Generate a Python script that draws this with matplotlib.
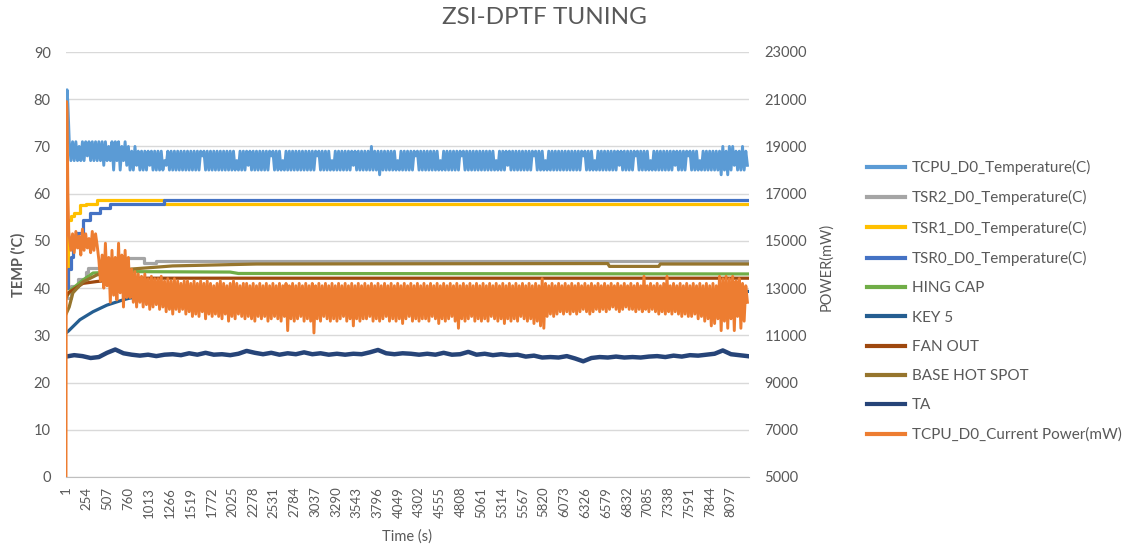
import numpy as np
import matplotlib
matplotlib.use("Agg")
import matplotlib.pyplot as plt

plt.rcParams['font.family'] = ['Lato', 'DejaVu Sans']

# ---------------- data ----------------
title = "ZSI-DPTF TUNING"
x_ticks = [1 + 253 * k for k in range(33)]  # 1, 254, ..., 8097

# dense (noisy) series sampled every 20 s, plus start-up spike samples
t_start = [1, 6, 14, 24, 34]
t_dense = np.arange(41, 8302, 20)

tcpu_start = [71, 80, 82, 79, 74]
tcpu_temp = [
    71, 67, 71, 67, 71, 67, 70, 67, 71, 67, 71, 68, 71, 67, 71, 67, 71, 67,
    71, 67, 71, 66, 71, 67, 70, 67, 71, 65, 71, 67, 71, 65, 70, 67, 71, 66,
    70, 65, 69, 65, 70, 66, 69, 65, 69, 65, 69, 65, 69, 66, 69, 65, 69, 65,
    69, 65, 69, 65, 67, 66, 69, 65, 69, 65, 69, 65, 69, 65, 69, 65, 69, 65,
    69, 65, 69, 65, 69, 65, 69, 65, 69, 68, 69, 65, 69, 65, 69, 65, 69, 65,
    69, 65, 69, 65, 69, 65, 69, 65, 69, 65, 69, 65, 67, 65, 69, 65, 69, 65,
    69, 66, 69, 65, 69, 65, 69, 65, 69, 65, 69, 65, 69, 65, 69, 68, 69, 65,
    69, 65, 69, 65, 67, 65, 69, 65, 69, 65, 69, 65, 69, 65, 69, 65, 69, 65,
    69, 65, 69, 65, 69, 65, 69, 68, 69, 65, 69, 65, 69, 65, 69, 65, 67, 65,
    69, 65, 69, 65, 69, 65, 69, 65, 69, 65, 69, 66, 69, 65, 69, 65, 69, 65,
    69, 65, 69, 65, 70, 65, 69, 65, 69, 64, 69, 65, 69, 65, 69, 65, 69, 65,
    69, 65, 67, 65, 69, 65, 69, 65, 69, 65, 69, 65, 69, 68, 69, 65, 69, 65,
    69, 65, 69, 65, 69, 65, 69, 65, 69, 65, 67, 65, 69, 65, 69, 65, 69, 65,
    69, 65, 69, 65, 69, 68, 69, 65, 69, 65, 69, 65, 69, 65, 69, 65, 69, 65,
    69, 65, 69, 65, 69, 65, 69, 65, 67, 65, 69, 65, 69, 65, 69, 66, 69, 65,
    69, 65, 69, 65, 69, 65, 69, 65, 69, 65, 69, 65, 69, 68, 69, 65, 69, 65,
    69, 65, 67, 65, 69, 65, 69, 65, 69, 65, 69, 65, 69, 65, 69, 65, 69, 65,
    69, 65, 69, 65, 69, 65, 69, 68, 69, 65, 69, 65, 69, 65, 67, 65, 69, 65,
    69, 65, 69, 65, 69, 65, 69, 65, 69, 65, 69, 66, 69, 65, 69, 65, 69, 65,
    69, 65, 69, 68, 69, 65, 69, 65, 69, 65, 69, 65, 67, 65, 69, 65, 69, 65,
    69, 65, 69, 65, 69, 65, 69, 65, 69, 66, 69, 65, 69, 65, 69, 65, 69, 68,
    69, 65, 69, 65, 69, 65, 67, 65, 69, 65, 69, 65, 69, 65, 69, 65, 69, 65,
    69, 64, 70, 65, 69, 64, 70, 65, 70, 66, 69, 65, 69, 65, 70, 65, 69, 66,
]

# power, in units of 100 mW
power_start = [50, 209, 205, 170, 154]
power_hmw = [
    152, 146, 153, 145, 154, 147, 152, 144, 155, 146, 153, 147, 151, 145, 154, 146, 153, 148,
    142, 133, 144, 130, 149, 131, 143, 124, 146, 127, 143, 125, 149, 128, 144, 122, 146, 126,
    143, 126, 138, 124, 137, 122, 136, 124, 135, 122, 136, 123, 134, 121, 135, 122, 134, 123,
    134, 121, 135, 122, 133, 120, 134, 121, 133, 119, 134, 121, 133, 120, 132, 121, 133, 119,
    133, 120, 132, 118, 133, 119, 132, 118, 133, 120, 132, 117, 133, 119, 132, 118, 131, 119,
    132, 118, 133, 117, 132, 119, 131, 116, 132, 118, 133, 117, 132, 119, 131, 118, 132, 117,
    132, 118, 131, 117, 132, 116, 131, 118, 132, 117, 131, 118, 132, 116, 131, 117, 132, 118,
    131, 117, 132, 116, 131, 118, 132, 112, 131, 117, 132, 116, 131, 117, 132, 118, 131, 116,
    132, 117, 131, 116, 132, 111, 131, 117, 132, 116, 131, 118, 132, 117, 131, 116, 132, 117,
    131, 116, 132, 117, 131, 118, 132, 116, 131, 117, 132, 114, 131, 117, 132, 116, 131, 117,
    132, 117, 131, 118, 132, 116, 131, 117, 132, 116, 131, 117, 132, 118, 131, 116, 132, 117,
    131, 116, 132, 117, 131, 115, 132, 117, 131, 118, 132, 116, 131, 117, 132, 116, 131, 117,
    132, 117, 131, 116, 132, 118, 131, 117, 132, 115, 131, 117, 132, 116, 131, 117, 132, 118,
    131, 116, 132, 113, 131, 117, 132, 116, 131, 117, 132, 118, 131, 116, 132, 117, 131, 116,
    132, 117, 131, 116, 132, 118, 131, 117, 132, 116, 131, 117, 132, 115, 131, 117, 132, 116,
    131, 117, 132, 116, 131, 118, 132, 117, 131, 116, 132, 117, 131, 115, 132, 116, 131, 114,
    134, 113, 132, 118, 131, 119, 132, 118, 131, 119, 132, 120, 131, 119, 132, 120, 131, 119,
    132, 120, 131, 119, 132, 120, 131, 121, 132, 120, 131, 119, 132, 120, 131, 121, 132, 120,
    131, 121, 132, 120, 131, 121, 132, 122, 131, 121, 132, 120, 131, 121, 132, 122, 131, 121,
    132, 121, 131, 120, 132, 121, 131, 120, 135, 121, 131, 120, 132, 121, 131, 120, 132, 119,
    131, 120, 132, 119, 135, 120, 131, 119, 132, 120, 131, 119, 132, 118, 131, 119, 132, 118,
    131, 118, 132, 119, 131, 117, 132, 118, 131, 116, 132, 117, 131, 114, 132, 115, 131, 117,
    135, 112, 134, 116, 135, 113, 134, 117, 135, 112, 133, 118, 134, 113, 132, 116, 131, 124,
]

t_ta = np.arange(1, 8302, 100)
ta_temp = [
    25.5, 25.8, 25.6, 25.2, 25.4, 26.3, 27.0, 26.2, 25.9, 25.7,
    25.9, 25.6, 25.9, 26.0, 25.8, 26.2, 25.9, 26.3, 25.9, 26.0,
    25.8, 26.1, 26.7, 26.3, 26.0, 26.3, 25.9, 26.2, 26.0, 26.4,
    26.0, 26.2, 25.9, 26.1, 25.9, 26.1, 26.0, 26.4, 26.9, 26.2,
    26.0, 26.2, 26.1, 25.9, 26.1, 25.9, 26.3, 25.9, 26.0, 26.5,
    25.9, 26.1, 25.8, 26.0, 25.8, 25.9, 25.5, 25.7, 25.3, 25.4,
    25.3, 25.6, 25.1, 24.5, 25.2, 25.4, 25.3, 25.5, 25.3, 25.4,
    25.3, 25.5, 25.6, 25.4, 25.7, 25.5, 25.8, 25.7, 25.9, 26.1,
    26.8, 26.0, 25.8, 25.6,
]

# smoother sensor series (key points)
t_tsr1 = [1, 30, 60, 100, 170, 250, 380, 1180, 1200, 8320]
tsr1_temp = [40, 54.5, 55.2, 56.0, 57.6, 57.8, 58.7, 58.7, 57.8, 57.8]

t_tsr0 = [1, 20, 60, 90, 140, 210, 290, 410, 535, 1180, 1200, 8320]
tsr0_temp = [40, 44.0, 46.6, 49.5, 51.7, 54.4, 56.0, 57.0, 57.8, 57.8, 58.7, 58.7]

t_tsr2 = [1, 60, 150, 250, 270, 330, 600, 720, 900, 950, 1100, 8320]
tsr2_temp = [38, 40.5, 42.0, 43.5, 44.3, 44.3, 44.5, 46.4, 46.4, 45.3, 45.7, 45.7]

t_base = [1, 40, 85, 207, 377, 694, 1300, 2320, 6600, 6620, 7220, 7240, 8320]
base_temp = [34.5, 36.0, 39.0, 41.3, 42.8, 43.9, 44.7, 45.1, 45.2, 44.6, 44.6, 45.1, 45.1]

t_hing = [1, 60, 207, 330, 700, 2000, 2100, 8320]
hing_temp = [38.0, 39.6, 41.7, 43.2, 43.5, 43.4, 43.1, 43.0]

t_fan = [1, 30, 207, 377, 800, 8320]
fan_temp = [38.0, 39.0, 41.0, 41.4, 42.1, 42.1]

t_key5 = [1, 30, 170, 330, 500, 694, 780, 1500, 3000, 8320]
key5_temp = [30.5, 30.9, 33.3, 35.0, 36.4, 37.5, 37.9, 38.8, 39.2, 39.3]

# ---------------- figure ----------------
fig = plt.figure(figsize=(11.28, 5.52), dpi=100)
ax = fig.add_axes([66 / 1128, 1 - 477 / 552, (749 - 66) / 1128, (477 - 52) / 552])
ax2 = ax.twinx()

c_tcpu = '#5B9BD5'
c_tsr2 = '#A5A5A5'
c_tsr1 = '#FFC000'
c_tsr0 = '#4472C4'
c_hing = '#70AD47'
c_key5 = '#255E91'
c_fan = '#9E480E'
c_base = '#96752D'
c_ta = '#264478'
c_pow = '#ED7D31'

lw_s = 2.3
t_all = np.concatenate([t_start, t_dense])
h_tcpu, = ax.plot(t_all, tcpu_start + tcpu_temp,
                  color=c_tcpu, lw=2.1, label='TCPU_D0_Temperature(C)')
h_tsr2, = ax.plot(t_tsr2, tsr2_temp, color=c_tsr2, lw=lw_s, drawstyle='steps-post',
                  label='TSR2_D0_Temperature(C)')
h_tsr1, = ax.plot(t_tsr1, tsr1_temp, color=c_tsr1, lw=lw_s, drawstyle='steps-post',
                  label='TSR1_D0_Temperature(C)')
h_tsr0, = ax.plot(t_tsr0, tsr0_temp, color=c_tsr0, lw=lw_s, drawstyle='steps-post',
                  label='TSR0_D0_Temperature(C)')
h_hing, = ax.plot(t_hing, hing_temp, color=c_hing, lw=lw_s, label='HING CAP')
h_key5, = ax.plot(t_key5, key5_temp, color=c_key5, lw=lw_s, label='KEY 5')
h_fan, = ax.plot(t_fan, fan_temp, color=c_fan, lw=lw_s, label='FAN OUT')
h_base, = ax.plot(t_base, base_temp, color=c_base, lw=lw_s, label='BASE HOT SPOT')
h_ta, = ax.plot(t_ta, ta_temp, color=c_ta, lw=3.2, label='TA')
h_pow, = ax2.plot(t_all, np.array(power_start + power_hmw) * 100,
                  color=c_pow, lw=2.1, label='TCPU_D0_Current Power(mW)')

ax.set_xlim(1, 8320)
ax.set_ylim(0, 90)
ax2.set_ylim(5000, 23000)
ax.set_yticks(range(0, 91, 10))
ax2.set_yticks(range(5000, 23001, 2000))
ax.set_xticks(x_ticks)
ax.set_xticklabels([str(v) for v in x_ticks], rotation=90, fontsize=9.5, color='#595959')

ax.grid(axis='y', color='#D9D9D9', lw=1)
ax.set_axisbelow(True)
for a in (ax, ax2):
    for s in ('top', 'left', 'right', 'bottom'):
        a.spines[s].set_visible(False)
ax.spines['bottom'].set_visible(True)
ax.spines['bottom'].set_color('#BFBFBF')
ax.tick_params(axis='x', length=0, pad=7)
ax.tick_params(axis='y', length=0, labelsize=10.5, labelcolor='#595959', pad=11)
ax2.tick_params(axis='y', length=0, labelsize=10.5, labelcolor='#595959', pad=11)

fig.text(18 / 1128, 1 - 265 / 552, "TEMP ('C)", rotation=90, ha='center', va='center',
         fontsize=10.5, fontweight='bold', color='#595959')
fig.text(826 / 1128, 1 - 267 / 552, "POWER(mW)", rotation=90, ha='center', va='center',
         fontsize=10.5, color='#595959')
fig.text(407 / 1128, 1 - 537 / 552, "Time (s)", ha='center', va='center',
         fontsize=10.5, color='#595959')
fig.text(544 / 1128, 1 - 17 / 552, title, ha='center', va='center',
         fontsize=17.5, color='#595959')

handles = [h_tcpu, h_tsr2, h_tsr1, h_tsr0, h_hing, h_key5, h_fan, h_base, h_ta, h_pow]
leg = fig.legend(handles=handles, loc='center left',
                 bbox_to_anchor=(861 / 1128, 1 - 301 / 552), frameon=False,
                 fontsize=11, handlelength=2.5, handletextpad=0.45,
                 labelspacing=1.0, borderaxespad=0)
for txt in leg.get_texts():
    txt.set_color('#595959')
for line in leg.get_lines():
    line.set_linewidth(3)

fig.savefig('out.png', dpi=100)
